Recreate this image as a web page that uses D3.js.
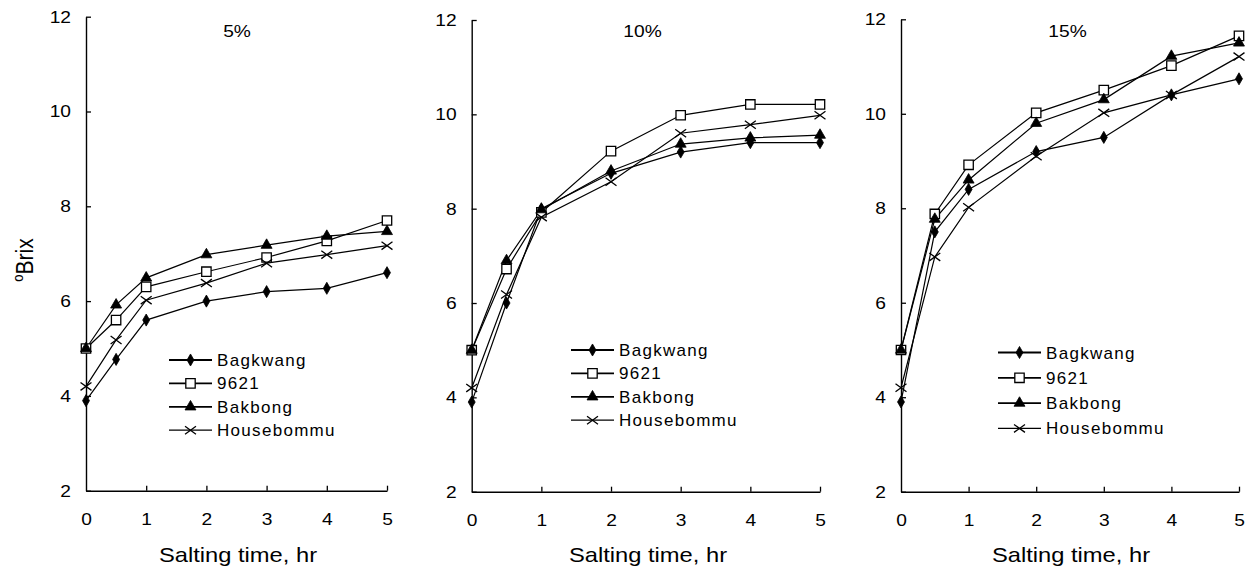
<!DOCTYPE html>
<html>
<head>
<meta charset="utf-8">
<script src="https://cdn.jsdelivr.net/npm/d3@7"></script>
<style>
  html, body { margin: 0; padding: 0; background: #fff; }
  svg { display: block; }
  text { font-family: "Liberation Sans", Arial, sans-serif; fill: #000; }
</style>
</head>
<body>
<svg id="chart" width="1250" height="571"></svg>
<script>
// Salting time (hr) at which °Brix was measured
const times = [0, 0.5, 1, 2, 3, 4, 5];
const xTicks = [0, 1, 2, 3, 4, 5];
const yTicks = [2, 4, 6, 8, 10, 12];
const seriesNames = ["Bagkwang", "9621", "Bakbong", "Housebommu"];
const panelTitles = ["5%", "10%", "15%"];

// °Brix per cultivar, brine 5%
const bagkwang5   = [3.9, 4.77, 5.6, 6.0, 6.2, 6.27, 6.6];
const c9621_5     = [5.0, 5.6, 6.3, 6.62, 6.92, 7.27, 7.7];
const bakbong5    = [5.0, 5.92, 6.49, 6.98, 7.18, 7.37, 7.47];
const housebommu5 = [4.2, 5.18, 6.02, 6.38, 6.8, 6.98, 7.17];

// brine 10%
const bagkwang10   = [3.9, 6.0, 8.0, 8.75, 9.2, 9.4, 9.4];
const c9621_10     = [5.0, 6.72, 7.92, 9.22, 9.98, 10.21, 10.21];
const bakbong10    = [5.0, 6.9, 7.98, 8.8, 9.37, 9.5, 9.56];
const housebommu10 = [4.2, 6.18, 7.82, 8.57, 9.6, 9.78, 9.98];

// brine 15%
const bagkwang15   = [3.9, 7.5, 8.4, 9.2, 9.5, 10.4, 10.74];
const c9621_15     = [5.0, 7.88, 8.92, 10.02, 10.5, 11.02, 11.65];
const bakbong15    = [5.0, 7.77, 8.6, 9.8, 10.3, 11.22, 11.5];
const housebommu15 = [4.2, 6.97, 8.02, 9.1, 10.02, 10.4, 11.21];

const panelData = [
  [bagkwang5, c9621_5, bakbong5, housebommu5],
  [bagkwang10, c9621_10, bakbong10, housebommu10],
  [bagkwang15, c9621_15, bakbong15, housebommu15]
];

// Plot frames for the three panels
const frames = [
  { x0: 86,    x1: 387,  yTop: 16.7, yBot: 490.7, titleX: 237,  axisTitleX: 238,
    legX: 169, legY: 360, legStep: 23.4 },
  { x0: 471.7, x1: 820,  yTop: 20,   yBot: 491.7, titleX: 642.5, axisTitleX: 648,
    legX: 571, legY: 350, legStep: 23.4 },
  { x0: 901,   x1: 1239, yTop: 19.3, yBot: 491.7, titleX: 1067.5, axisTitleX: 1071,
    legX: 998, legY: 352.5, legStep: 25.3 }
];

// Horizontal widening of the lettering
const WIDE = 1.13;

// Marker shapes
const timesSymbol = {
  draw(ctx, size) {
    const w = Math.sqrt(size) * 0.62, h = Math.sqrt(size) * 0.45;
    ctx.moveTo(-w, -h); ctx.lineTo(w, h);
    ctx.moveTo(-w, h);  ctx.lineTo(w, -h);
  }
};
const markerStyles = [
  { type: d3.symbolDiamond,  size: 42,  fill: "#000", stroke: "#000", sw: 0.8 },
  { type: d3.symbolSquare,   size: 88,  fill: "#fff", stroke: "#000", sw: 1.3 },
  { type: d3.symbolTriangle, size: 52,  fill: "#000", stroke: "#000", sw: 0.8 },
  { type: timesSymbol,       size: 78,  fill: "none", stroke: "#000", sw: 1.3 }
];

const svg = d3.select("#chart");

function wideText(parent, x, y, size, anchor, str) {
  return parent.append("text")
    .attr("transform", `translate(${x},${y}) scale(${WIDE},1)`)
    .attr("text-anchor", anchor)
    .style("font-size", size)
    .text(str);
}

frames.forEach((f, pi) => {
  const x = d3.scaleLinear().domain([0, 5]).range([f.x0, f.x1]);
  const y = d3.scaleLinear().domain([2, 12]).range([f.yBot, f.yTop]);
  const g = svg.append("g");

  // axes with inward ticks
  const yAxis = g.append("g")
    .attr("transform", `translate(${f.x0},0)`)
    .call(d3.axisLeft(y).tickValues(yTicks).tickFormat(d3.format("d"))
      .tickSize(-5).tickSizeOuter(0).tickPadding(15));
  const xAxis = g.append("g")
    .attr("transform", `translate(0,${f.yBot})`)
    .call(d3.axisBottom(x).tickValues(xTicks).tickFormat(d3.format("d"))
      .tickSize(-5).tickSizeOuter(0).tickPadding(22));
  [yAxis, xAxis].forEach(a => {
    a.selectAll("path.domain").attr("stroke", "#000").attr("stroke-width", 1.4);
    a.selectAll(".tick line").attr("stroke", "#000").attr("stroke-width", 1.3);
    a.selectAll(".tick text")
      .style("font-family", '"Liberation Sans", Arial, sans-serif')
      .style("font-size", "17px").attr("fill", "#000");
  });
  yAxis.selectAll(".tick text")
    .attr("transform", `translate(-15,0) scale(${WIDE},1)`).attr("x", 0);
  xAxis.selectAll(".tick text")
    .attr("transform", `translate(0,22) scale(${WIDE},1)`).attr("y", 0);
  xAxis.selectAll(".tick").filter(d => d === 0).select("line").remove();

  // series lines and markers
  const line = d3.line().x((d, i) => x(times[i])).y(d => y(d));
  panelData[pi].forEach(vals => {
    g.append("path")
      .datum(vals)
      .attr("d", line)
      .attr("fill", "none")
      .attr("stroke", "#000")
      .attr("stroke-width", 1.2);
  });
  panelData[pi].forEach((vals, si) => {
    const m = markerStyles[si];
    g.selectAll(null)
      .data(vals)
      .join("path")
      .attr("transform", (d, i) => `translate(${x(times[i])},${y(d)})`)
      .attr("d", d3.symbol().type(m.type).size(m.size))
      .attr("fill", m.fill)
      .attr("stroke", m.stroke)
      .attr("stroke-width", m.sw);
  });

  // panel title
  wideText(g, f.titleX, 37, "17px", "middle", panelTitles[pi]);

  // x axis title
  wideText(g, f.axisTitleX, 562, "21px", "middle", "Salting time, hr");

  // legend
  seriesNames.forEach((name, si) => {
    const ly = f.legY + si * f.legStep;
    const m = markerStyles[si];
    g.append("line")
      .attr("x1", f.legX).attr("x2", f.legX + 43)
      .attr("y1", ly).attr("y2", ly)
      .attr("stroke", "#000").attr("stroke-width", si === 3 ? 1.2 : 1.8);
    g.append("path")
      .attr("transform", `translate(${f.legX + 21.5},${ly})`)
      .attr("d", d3.symbol().type(m.type).size(m.size))
      .attr("fill", m.fill).attr("stroke", m.stroke).attr("stroke-width", m.sw);
    g.append("text")
      .attr("x", f.legX + 48).attr("y", ly + 6)
      .style("font-size", "17px")
      .style("letter-spacing", "1.3px")
      .text(name);
  });
});

// shared y axis title
svg.append("text")
  .attr("transform", "translate(29,260) rotate(-90) scale(1,1.1)")
  .attr("text-anchor", "middle")
  .style("font-size", "21px")
  .call(t => {
    t.append("tspan").attr("dy", "-0.4em").style("font-size", "13px").text("o");
    t.append("tspan").attr("dy", "0.4em").text("Brix");
  });
</script>
</body>
</html>
